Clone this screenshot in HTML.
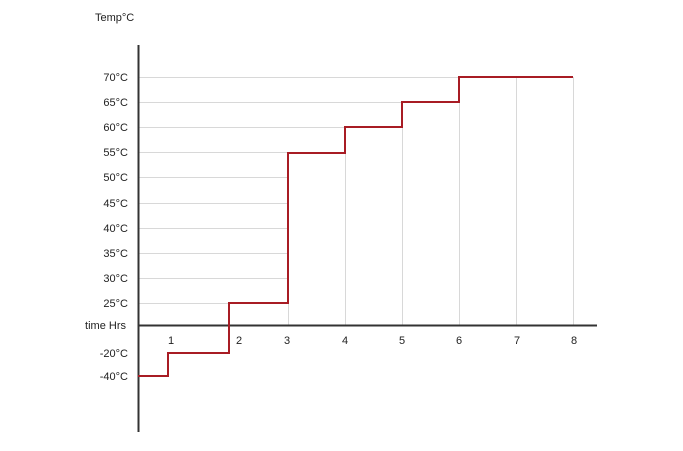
<!DOCTYPE html>
<html><head><style>body{margin:0;background:#fff}</style></head><body>
<svg width="683" height="446" xmlns="http://www.w3.org/2000/svg" font-family="Liberation Sans, sans-serif" font-size="11" fill="#222">
<rect width="683" height="446" fill="#fff"/>
<g stroke="#d8d8d8" stroke-width="1">
<line x1="138" y1="77.5" x2="573" y2="77.5"/>
<line x1="138" y1="102.5" x2="459" y2="102.5"/>
<line x1="138" y1="127.5" x2="402" y2="127.5"/>
<line x1="138" y1="152.5" x2="345" y2="152.5"/>
<line x1="138" y1="177.5" x2="288" y2="177.5"/>
<line x1="138" y1="203.5" x2="288" y2="203.5"/>
<line x1="138" y1="228.5" x2="288" y2="228.5"/>
<line x1="138" y1="253.5" x2="288" y2="253.5"/>
<line x1="138" y1="278.5" x2="288" y2="278.5"/>
<line x1="138" y1="303.5" x2="288" y2="303.5"/>
<line x1="288.5" y1="303" x2="288.5" y2="325"/>
<line x1="345.5" y1="152" x2="345.5" y2="325"/>
<line x1="402.5" y1="127" x2="402.5" y2="325"/>
<line x1="459.5" y1="102" x2="459.5" y2="325"/>
<line x1="516.5" y1="77" x2="516.5" y2="325"/>
<line x1="573.5" y1="77" x2="573.5" y2="325"/>
</g>
<line x1="138.5" y1="45" x2="138.5" y2="432" stroke="#333" stroke-width="2"/>
<line x1="138" y1="325.5" x2="597" y2="325.5" stroke="#333" stroke-width="2"/>
<polyline fill="none" stroke="#a81c24" stroke-width="2" points="138,376 168,376 168,353 229,353 229,303 288,303 288,153 345,153 345,127 402,127 402,102 459,102 459,77 573,77"/>
<g text-anchor="end">
<text x="128" y="81">70°C</text><text x="128" y="106">65°C</text><text x="128" y="131">60°C</text>
<text x="128" y="156">55°C</text><text x="128" y="181">50°C</text><text x="128" y="207">45°C</text>
<text x="128" y="232">40°C</text><text x="128" y="257">35°C</text><text x="128" y="282">30°C</text>
<text x="128" y="307">25°C</text><text x="126" y="329">time Hrs</text>
<text x="128" y="357">-20°C</text><text x="128" y="380">-40°C</text>
</g>
<text x="95" y="21">Temp°C</text>
<g text-anchor="middle">
<text x="171" y="344">1</text><text x="239" y="344">2</text><text x="287" y="344">3</text>
<text x="345" y="344">4</text><text x="402" y="344">5</text><text x="459" y="344">6</text>
<text x="517" y="344">7</text><text x="574" y="344">8</text>
</g>
</svg>
</body></html>
